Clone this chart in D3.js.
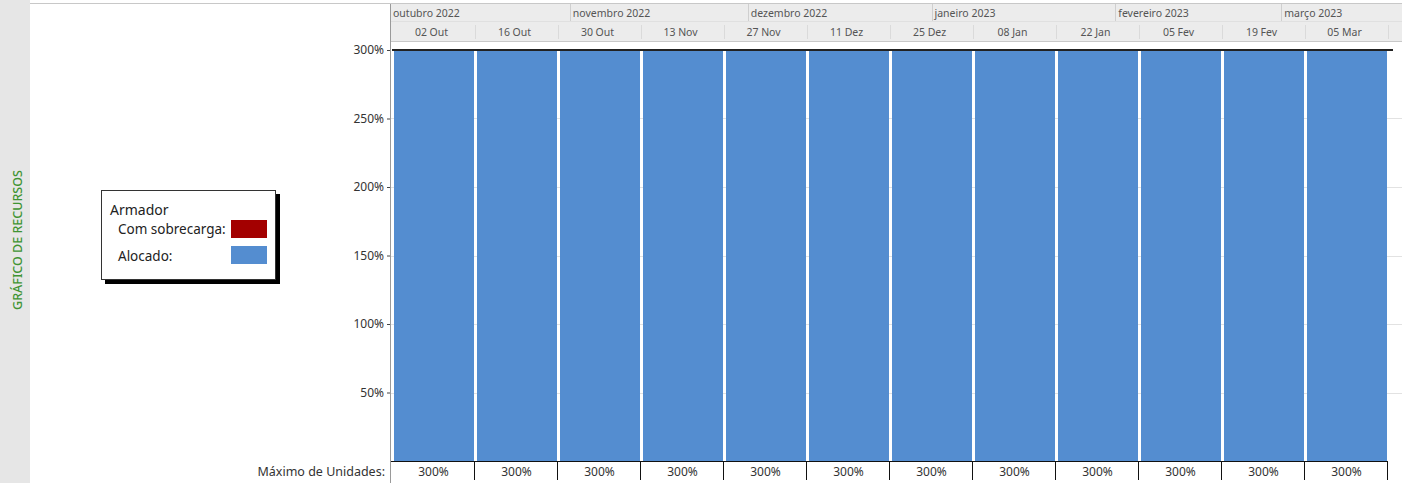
<!DOCTYPE html>
<html><head><meta charset="utf-8">
<script src="https://cdn.jsdelivr.net/npm/d3@7"></script>
<style>
html,body{margin:0;padding:0;background:#fff;overflow:hidden;}
svg{display:block;}
text{font-family:"Noto Sans","Open Sans",sans-serif;}
</style></head>
<body>
<svg id="c" width="1402" height="483"></svg>
<script>
// ---- data ----
const periodStarts = ["2022-10-02","2022-10-16","2022-10-30","2022-11-13","2022-11-27","2022-12-11",
                      "2022-12-25","2023-01-08","2023-01-22","2023-02-05","2023-02-19","2023-03-05"];
const periodLabels = ["02 Out","16 Out","30 Out","13 Nov","27 Nov","11 Dez",
                      "25 Dez","08 Jan","22 Jan","05 Fev","19 Fev","05 Mar"];
const allocated = [300,300,300,300,300,300,300,300,300,300,300,300];
const maxUnits  = [300,300,300,300,300,300,300,300,300,300,300,300];
const monthStarts = ["2022-10-01","2022-11-01","2022-12-01","2023-01-01","2023-02-01","2023-03-01"];
const monthLabels = ["outubro 2022","novembro 2022","dezembro 2022","janeiro 2023","fevereiro 2023","março 2023"];
const yTicks = [50,100,150,200,250,300];
const legendTitle = "Armador";
const legendItems = ["Com sobrecarga:","Alocado:"];

// ---- setup ----
const parse = d3.timeParse("%Y-%m-%d");
const pStarts = periodStarts.map(parse);
const domainEnd = d3.timeDay.offset(pStarts[pStarts.length-1], 14);
const svg = d3.select("#c");
const x = d3.scaleTime().domain([pStarts[0], domainEnd]).range([392, 1388]);
const y = d3.scaleLinear().domain([0, 300]).range([461, 50]);
const barColor = "#548dd0", overColor = "#a30000";

// left strip
svg.append("rect").attr("x",0).attr("y",0).attr("width",30).attr("height",483).attr("fill","#e6e6e6");
svg.append("text").attr("transform","translate(22,240) rotate(-90)").attr("text-anchor","middle")
  .attr("font-size",12.5).attr("font-weight",500).attr("fill","#3f9433").text("GRÁFICO DE RECURSOS");

// top border
svg.append("line").attr("x1",30).attr("x2",1402).attr("y1",3.5).attr("y2",3.5).attr("stroke","#c8c8c8");

// header
svg.append("rect").attr("x",390).attr("y",4).attr("width",1012).attr("height",37).attr("fill","#ececec");
svg.append("line").attr("x1",390).attr("x2",1402).attr("y1",41.5).attr("y2",41.5).attr("stroke","#c8c8c8");
svg.append("line").attr("x1",390).attr("x2",1402).attr("y1",21.5).attr("y2",21.5).attr("stroke","#e0e0e0");
const mStarts = monthStarts.map(parse);
svg.append("g").selectAll("line").data(mStarts.slice(1)).join("line")
  .attr("x1",d=>Math.round(x(d))+0.5).attr("x2",d=>Math.round(x(d))+0.5).attr("y1",4).attr("y2",21)
  .attr("stroke","#cfcfcf");
svg.append("g").selectAll("text").data(monthLabels).join("text")
  .attr("x",(d,i)=>Math.max(x(mStarts[i]),390)+3).attr("y",17).attr("font-size",10.5).attr("fill","#555")
  .text(d=>d);
svg.append("g").selectAll("line").data(pStarts.slice(1).concat([domainEnd])).join("line")
  .attr("x1",d=>Math.round(x(d))+0.5).attr("x2",d=>Math.round(x(d))+0.5).attr("y1",25).attr("y2",39)
  .attr("stroke","#dadada");
svg.append("g").selectAll("text").data(periodLabels).join("text")
  .attr("x",(d,i)=>(x(pStarts[i])+x(d3.timeDay.offset(pStarts[i],14)))/2 - 2).attr("y",36)
  .attr("text-anchor","middle").attr("font-size",10.5).attr("fill","#555").text(d=>d);

// main vertical separator
svg.append("line").attr("x1",390.5).attr("x2",390.5).attr("y1",4).attr("y2",483).attr("stroke","#9a9a9a");

// gridlines
svg.append("g").selectAll("line").data(yTicks.slice(0,-1)).join("line")
  .attr("x1",391).attr("x2",1402).attr("y1",d=>Math.round(y(d))+0.5).attr("y2",d=>Math.round(y(d))+0.5)
  .attr("stroke","#e2e2e2");

// bars
svg.append("g").selectAll("rect").data(allocated).join("rect")
  .attr("x",(d,i)=>x(pStarts[i])+2)
  .attr("width",(d,i)=>x(d3.timeDay.offset(pStarts[i],14))-x(pStarts[i])-3)
  .attr("y",d=>y(d)).attr("height",d=>y(0)-y(d)).attr("fill",barColor);

// max units line
svg.append("line").attr("x1",392).attr("x2",1393).attr("y1",y(300)).attr("y2",y(300))
  .attr("stroke","#222").attr("stroke-width",2);

// y axis labels
const yAxis = d3.axisLeft(y).tickValues(yTicks).tickFormat(d=>d+"%").tickSize(3).tickPadding(3);
const ga = svg.append("g").attr("transform","translate(390,0)").call(yAxis);
ga.select(".domain").remove();
ga.selectAll(".tick line").attr("stroke","#444");
ga.selectAll(".tick text").attr("font-size",12).attr("fill","#333").attr("font-family","Noto Sans, sans-serif");

// bottom table
svg.append("line").attr("x1",391).attr("x2",1388).attr("y1",461.5).attr("y2",461.5).attr("stroke","#111");
svg.append("text").attr("x",385).attr("y",476).attr("text-anchor","end").attr("font-size",12.5)
  .attr("fill","#333").text("Máximo de Unidades:");
svg.append("g").selectAll("line").data(pStarts.slice(1).concat([domainEnd])).join("line")
  .attr("x1",d=>Math.round(x(d))-0.5).attr("x2",d=>Math.round(x(d))-0.5).attr("y1",462).attr("y2",480)
  .attr("stroke","#111");
svg.append("g").selectAll("text").data(maxUnits).join("text")
  .attr("x",(d,i)=>(x(pStarts[i])+x(d3.timeDay.offset(pStarts[i],14)))/2).attr("y",476)
  .attr("text-anchor","middle").attr("font-size",12).attr("fill","#333").text(d=>d+"%");

// legend
const lg = svg.append("g");
lg.append("rect").attr("x",105).attr("y",194).attr("width",175).attr("height",90).attr("fill","#000");
lg.append("rect").attr("x",101.5).attr("y",190.5).attr("width",174).attr("height",89).attr("fill","#fff").attr("stroke","#333");
lg.append("text").attr("x",110).attr("y",215).attr("font-size",14).attr("fill","#222").text(legendTitle);
lg.selectAll(".li").data(legendItems).join("text").attr("class","li")
  .attr("x",118).attr("y",(d,i)=>234+i*27).attr("font-size",13.5).attr("fill","#222").text(d=>d);
lg.selectAll(".sw").data([overColor, barColor]).join("rect").attr("class","sw")
  .attr("x",231).attr("y",(d,i)=>220+i*26).attr("width",36).attr("height",18).attr("fill",d=>d);
</script>
</body></html>
